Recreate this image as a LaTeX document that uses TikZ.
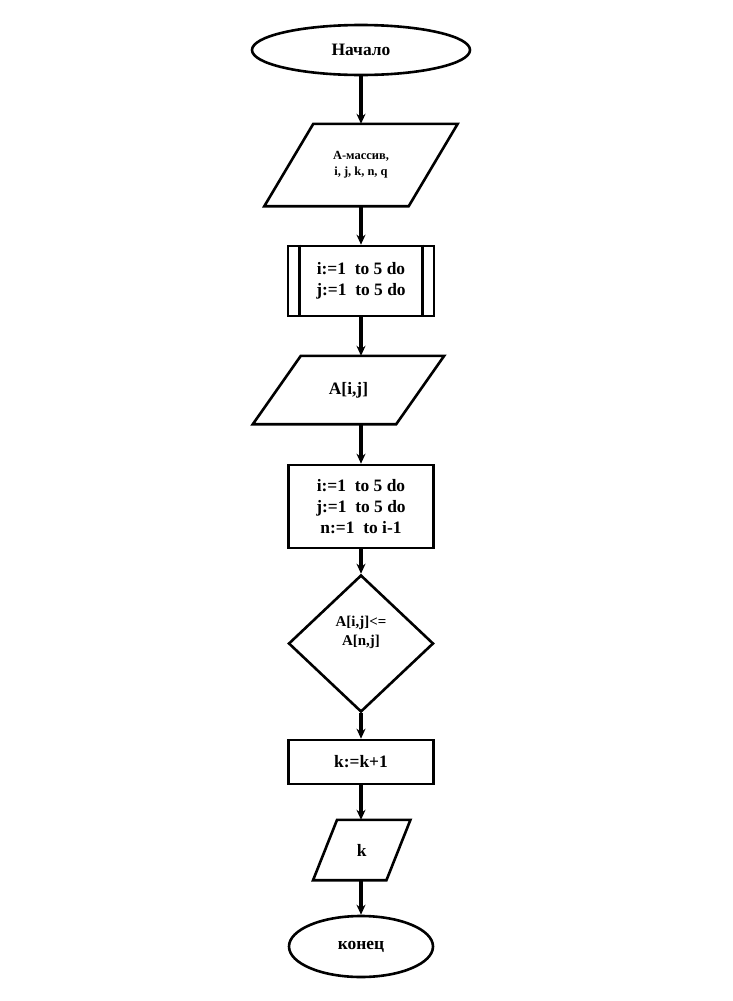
\documentclass[tikz,border=0pt]{standalone}
\usepackage{fontspec}
\setmainfont{Liberation Serif}
\usetikzlibrary{shapes.geometric,arrows.meta,calc}
\begin{document}
\begin{tikzpicture}[x=1bp,y=-1bp,
  every node/.style={font=\bfseries},
  ln/.style={line width=2.6bp},
  flowarrow/.style={draw,line width=3.2bp,-{Stealth[length=10bp,width=9bp]}},
  term/.style={ellipse,draw,ln,inner sep=0pt},
  proc/.style={rectangle,draw,ln,inner sep=0pt,align=center},
  io/.style={rectangle,inner sep=0pt,align=center},
  big/.style={font=\fontsize{17.5}{21}\selectfont\bfseries},
  small/.style={font=\fontsize{12.5}{16}\selectfont\bfseries}]
\useasboundingbox (0,0) rectangle (733,1001);

% start
\node[term,big,minimum width=218bp,minimum height=50bp] (start) at (361,50) {Начало};

% input 1
\node[io,small,minimum width=144bp,minimum height=82bp] (in1) at (361,165) {A-массив,\\i, j, k, n, q};
\draw[ln] ([xshift=24.5bp]in1.north west) -- ([xshift=24.5bp]in1.north east)
  -- ([xshift=-24.5bp]in1.south east) -- ([xshift=-24.5bp]in1.south west) -- cycle;

% loop 1
\node[proc,big,minimum width=146bp,minimum height=70bp] (loop1) at (361,281) {i:=1\ \ to 5 do\\j:=1\ \ to 5 do};
\draw[ln] ([xshift=13bp]loop1.north west) -- ([xshift=13bp]loop1.south west);
\draw[ln] ([xshift=-13bp]loop1.north east) -- ([xshift=-13bp]loop1.south east);

% input 2
\node[io,big,minimum width=143bp,minimum height=68bp] (in2) at (348.5,390) {A[i,j]};
\draw[ln] ([xshift=24bp]in2.north west) -- ([xshift=24bp]in2.north east)
  -- ([xshift=-24bp]in2.south east) -- ([xshift=-24bp]in2.south west) -- cycle;

% loop 2
\node[proc,big,minimum width=145bp,minimum height=83bp] (loop2) at (361,506.5) {i:=1\ \ to 5 do\\j:=1\ \ to 5 do\\n:=1\ \ to i-1};

% decision
\node[diamond,draw,ln,inner sep=0pt,minimum width=145bp,minimum height=137bp] (dec) at (361,643.5) {};
\node[font=\fontsize{15}{19}\selectfont\bfseries,align=center] (dtext) at (361,632) {A[i,j]<=\\A[n,j]};

% k:=k+1
\node[proc,big,minimum width=145bp,minimum height=44bp] (inc) at (361,762) {k:=k+1};

% output k
\node[io,big,minimum width=73bp,minimum height=60bp] (out) at (361.75,850) {k};
\draw[ln] ([xshift=12bp]out.north west) -- ([xshift=12bp]out.north east)
  -- ([xshift=-12bp]out.south east) -- ([xshift=-12bp]out.south west) -- cycle;

% end
\node[term,font=\fontsize{17.5}{20}\selectfont\bfseries,minimum width=144bp,minimum height=61bp] (end) at (361,946.5) {конец};

% connectors
\path[flowarrow] (start.south) -- (start.south |- in1.north);
\path[flowarrow] (start.south |- in1.south) -- (loop1.north);
\path[flowarrow] (loop1.south) -- (loop1.south |- in2.north);
\path[flowarrow] (loop1.south |- in2.south) -- (loop2.north);
\path[flowarrow] (loop2.south) -- (dec.north);
\path[flowarrow] (dec.south) -- (inc.north);
\path[flowarrow] (inc.south) -- (inc.south |- out.north);
\path[flowarrow] (inc.south |- out.south) -- (end.north);
\end{tikzpicture}
\end{document}
